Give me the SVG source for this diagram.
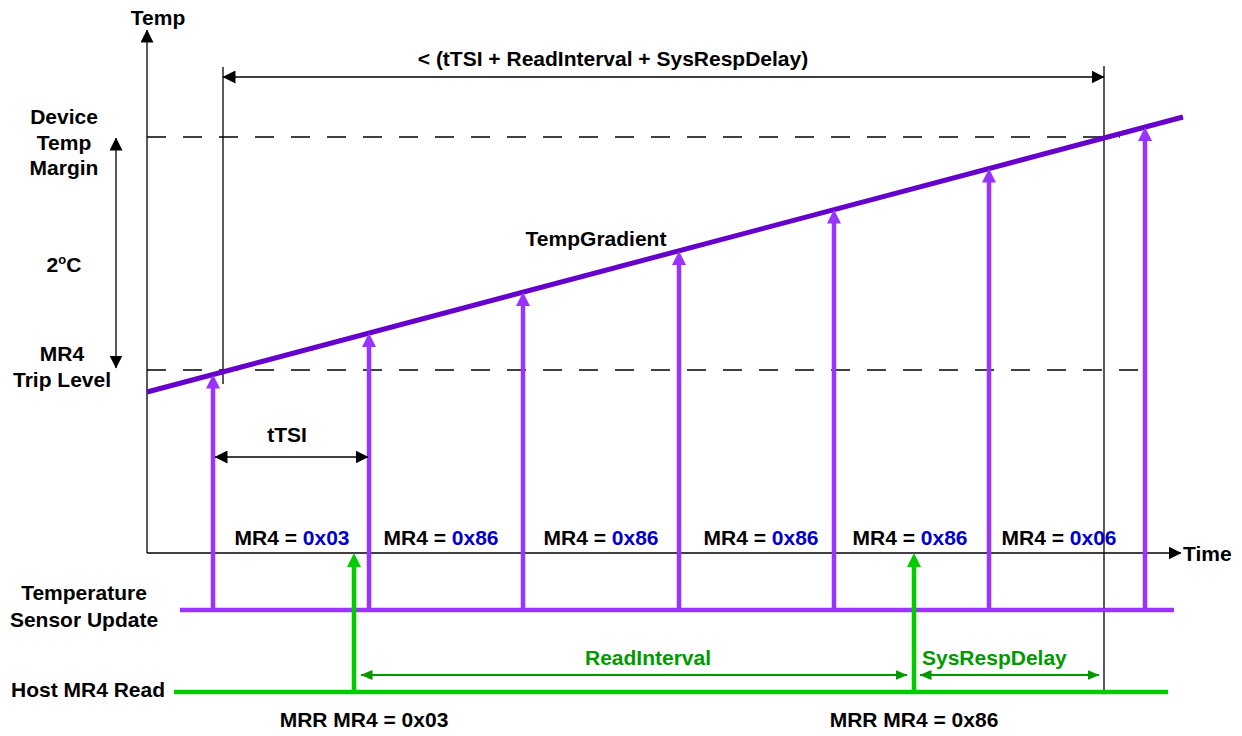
<svg xmlns="http://www.w3.org/2000/svg" width="1242" height="736" viewBox="0 0 1242 736">
<style>
text{font-family:"Liberation Sans",Arial,sans-serif;font-weight:bold;font-size:21px;fill:#000}
.c{text-anchor:middle}
.b{fill:#0000CC}
.g{fill:#009900}
.thin{stroke:#000;stroke-width:1.3;fill:none}
.dash{stroke:#000;stroke-width:1.3;stroke-dasharray:19 17;fill:none}
.pu{stroke:#9933FF;stroke-width:4.5;fill:none}
.gr{stroke:#00CC00;stroke-width:4.5;fill:none}
.dg{stroke:#009900;stroke-width:2;fill:none}
</style>
<defs>
<marker id="ahP" viewBox="0 0 14 14" markerWidth="14" markerHeight="14" markerUnits="userSpaceOnUse" refX="5" refY="7" orient="auto"><path d="M0,0 L14,7 L0,14 z" fill="#9933FF"/></marker>
<marker id="ahG" viewBox="0 0 14 14" markerWidth="14" markerHeight="14" markerUnits="userSpaceOnUse" refX="5" refY="7" orient="auto"><path d="M0,0 L14,7 L0,14 z" fill="#00CC00"/></marker>
<marker id="ahK" viewBox="0 0 13 13" markerWidth="13" markerHeight="13" markerUnits="userSpaceOnUse" refX="12.5" refY="6.5" orient="auto-start-reverse"><path d="M0,0 L13,6.5 L0,13 z" fill="#000"/></marker>
<marker id="ahD" viewBox="0 0 12 10" markerWidth="12" markerHeight="10" markerUnits="userSpaceOnUse" refX="11.5" refY="5" orient="auto-start-reverse"><path d="M0,0 L12,5 L0,10 z" fill="#009900"/></marker>
</defs>
<g id="axes">
<line class="thin" x1="147" y1="553" x2="147" y2="30" marker-end="url(#ahK)"/>
<line class="thin" x1="147" y1="553" x2="1181" y2="553" marker-end="url(#ahK)"/>
<text x="158" y="25" class="c">Temp</text>
<text x="1183" y="561">Time</text>
</g>
<g id="guides">
<line class="dash" x1="147" y1="137" x2="1120" y2="137"/>
<line class="dash" x1="147" y1="370" x2="1148" y2="370"/>
<line class="thin" x1="223" y1="67" x2="223" y2="384"/>
<line class="thin" x1="1104" y1="66" x2="1104" y2="692"/>
</g>
<g id="temp-gradient">
<line x1="147" y1="392" x2="1183" y2="117" stroke="#6600CC" stroke-width="5"/>
<text x="596" y="246" class="c">TempGradient</text>
</g>
<g id="labels-left">
<text x="64" y="124" class="c">Device</text>
<text x="64" y="150" class="c">Temp</text>
<text x="64" y="175" class="c">Margin</text>
<text x="64" y="272" class="c">2<tspan font-size="13" dy="-8">o</tspan><tspan dy="8">C</tspan></text>
<text x="62" y="361" class="c">MR4</text>
<text x="62" y="387" class="c">Trip Level</text>
<text x="84" y="600" class="c">Temperature</text>
<text x="84" y="627" class="c">Sensor Update</text>
<text x="88" y="697" class="c">Host MR4 Read</text>
</g>
<g id="sensor-update">
<line class="pu" x1="180" y1="610" x2="1174" y2="610"/>
</g>
<g id="host-read">
<line class="gr" x1="174" y1="692" x2="1168" y2="692"/>
</g>
<g id="mr4-values">
<text x="292" y="545" class="c">MR4 = <tspan class="b">0x03</tspan></text>
<text x="441" y="545" class="c">MR4 = <tspan class="b">0x86</tspan></text>
<text x="601" y="545" class="c">MR4 = <tspan class="b">0x86</tspan></text>
<text x="761" y="545" class="c">MR4 = <tspan class="b">0x86</tspan></text>
<text x="910" y="545" class="c">MR4 = <tspan class="b">0x86</tspan></text>
<text x="1059" y="545" class="c">MR4 = <tspan class="b">0x06</tspan></text>
<text x="364" y="727" class="c">MRR MR4 = 0x03</text>
<text x="914" y="727" class="c">MRR MR4 = 0x86</text>
<text x="613" y="66" class="c">&lt; (tTSI + ReadInterval + SysRespDelay)</text>
<text x="287" y="442" class="c">tTSI</text>
<text x="648" y="665" class="c g">ReadInterval</text>
<text x="922" y="665" class="g">SysRespDelay</text>
</g>
<g id="connectors">
<line class="pu" x1="213" y1="610" x2="213" y2="383.5" marker-end="url(#ahP)"/>
<line class="pu" x1="369" y1="610" x2="369" y2="342" marker-end="url(#ahP)"/>
<line class="pu" x1="523" y1="610" x2="523" y2="301" marker-end="url(#ahP)"/>
<line class="pu" x1="679" y1="610" x2="679" y2="260" marker-end="url(#ahP)"/>
<line class="pu" x1="834" y1="610" x2="834" y2="218.5" marker-end="url(#ahP)"/>
<line class="pu" x1="989" y1="610" x2="989" y2="177.5" marker-end="url(#ahP)"/>
<line class="pu" x1="1145" y1="610" x2="1145" y2="136" marker-end="url(#ahP)"/>
<line class="gr" x1="354" y1="692" x2="354" y2="562" marker-end="url(#ahG)"/>
<line class="gr" x1="914" y1="692" x2="914" y2="562" marker-end="url(#ahG)"/>
<line class="thin" x1="223" y1="77" x2="1104" y2="77" marker-start="url(#ahK)" marker-end="url(#ahK)"/>
<line class="thin" x1="116" y1="138" x2="116" y2="368" marker-start="url(#ahK)" marker-end="url(#ahK)"/>
<line class="thin" x1="215" y1="457" x2="368" y2="457" marker-start="url(#ahK)" marker-end="url(#ahK)"/>
<line class="dg" x1="361" y1="675" x2="907" y2="675" marker-start="url(#ahD)" marker-end="url(#ahD)"/>
<line class="dg" x1="920" y1="675" x2="1099" y2="675" marker-start="url(#ahD)" marker-end="url(#ahD)"/>
</g>
</svg>
